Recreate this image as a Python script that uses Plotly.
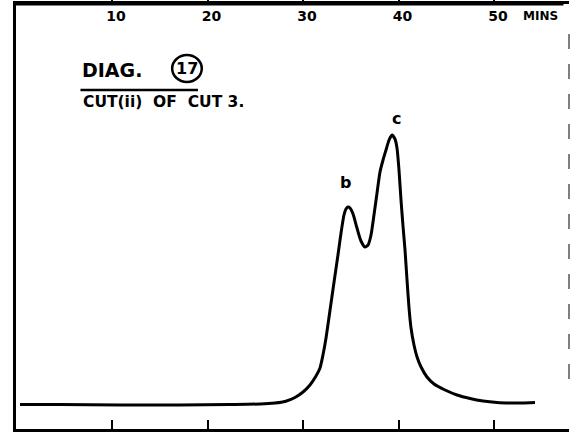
import plotly.graph_objects as go

# Elution time (minutes) and detector response (arbitrary units)
time_min = [0.37, 4.55, 10.84, 17.12, 22.36, 25.50, 27.07, 28.12, 29.16, 30.00,
            30.73, 31.36, 31.78, 32.09, 32.41, 32.83, 33.25, 33.66, 33.98, 34.29,
            34.50, 34.71, 34.92, 35.24, 35.65, 36.07, 36.49, 36.81, 37.12, 37.43,
            37.75, 38.06, 38.38, 38.69, 39.01, 39.32, 39.63, 39.84, 40.05, 40.26,
            40.47, 40.68, 40.89, 41.10, 41.31, 41.62, 41.94, 42.36, 42.98, 43.72,
            44.87, 46.13, 47.49, 48.85, 50.31, 51.68, 52.93, 54.29]
response = [24.5, 24.5, 24, 24, 24.5, 25, 26, 27.5, 31.5, 37,
            44, 53, 61, 74, 91, 119, 147, 174, 196, 214,
            220, 222, 221, 215, 201, 188, 182, 184, 194, 214,
            236, 257, 269, 279, 289, 294, 290, 281, 259, 229,
            203, 179, 149, 121, 101, 84, 72, 62, 52, 45,
            39, 34, 30.5, 28, 26.5, 26, 26, 26.5]

tick_vals = [10, 20, 30, 40, 50]
tick_text = ["10", "20", "30", "40", "50"]

peak_labels = ["b", "c"]
peak_label_x = [34.4, 39.8]
peak_label_y = [247, 311]

title_text = "DIAG."
circled_text = "17"
subtitle_text = "CUT(ii)  OF  CUT 3."
unit_text = "MINS"

FONT = "DejaVu Sans"

fig = go.Figure()
fig.add_trace(go.Scatter(
    x=time_min, y=response, mode="lines",
    line=dict(color="black", width=3, shape="spline", smoothing=0.6),
    hoverinfo="skip", showlegend=False))
# companion trace so the top time axis is drawn
fig.add_trace(go.Scatter(
    x=time_min, y=response, mode="lines", xaxis="x2",
    line=dict(color="rgba(0,0,0,0)", width=0),
    hoverinfo="skip", showlegend=False))

xr = [-0.05, 57.85]
fig.update_layout(
    width=571, height=433,
    margin=dict(l=16, r=2, t=4, b=4),
    paper_bgcolor="white", plot_bgcolor="white",
    xaxis=dict(range=xr, showline=True, linecolor="black", linewidth=2.5,
               ticks="inside", ticklen=9, tickwidth=2, tickcolor="black",
               tickvals=tick_vals, showticklabels=False, automargin=False,
               showgrid=False, zeroline=False),
    xaxis2=dict(range=xr, overlaying="x", side="top", anchor="y",
                showline=True, linecolor="black", linewidth=3,
                ticks="outside", ticklen=4, tickwidth=2, tickcolor="black",
                tickvals=tick_vals, ticktext=tick_text, automargin=False,
                ticklabelposition="inside", ticklabelshift=4, ticklabelstandoff=7,
                tickfont=dict(family=FONT, size=14, color="black", weight="bold"),
                showgrid=False, zeroline=False),
    yaxis=dict(range=[0, 425], showline=True, linecolor="black", linewidth=2.5,
               ticks="", showticklabels=False, showgrid=False, zeroline=False,
               automargin=False),
)

ann_font = dict(family=FONT, color="black", weight="bold")
for lab, lx, ly in zip(peak_labels, peak_label_x, peak_label_y):
    fig.add_annotation(x=lx, y=ly, text=lab, showarrow=False,
                       font=dict(ann_font, size=16))

fig.add_annotation(x=54.9, y=413, text=unit_text, showarrow=False,
                   font=dict(ann_font, size=12))
fig.add_annotation(x=6.7, y=359, text=title_text, showarrow=False, xanchor="left",
                   font=dict(ann_font, size=19))
fig.add_annotation(x=17.9, y=361, text=circled_text, showarrow=False,
                   font=dict(ann_font, size=16))
fig.add_shape(type="circle", x0=16.3, x1=19.4, y0=347, y1=374,
              line=dict(color="black", width=2.5))
fig.add_shape(type="line", x0=6.7, x1=19.0, y0=339, y1=339,
              line=dict(color="black", width=2.5))
fig.add_annotation(x=6.8, y=327, text=subtitle_text, showarrow=False, xanchor="left",
                   font=dict(ann_font, size=15.5))

# top frame line of the chart paper
fig.add_shape(type="line", xref="paper", yref="paper", x0=-0.005, x1=0.99, y0=1, y1=1,
              line=dict(color="black", width=3))
# faint broken right-hand border of the chart paper
fig.add_shape(type="line", xref="paper", x0=1, x1=1, y0=50, y1=410,
              line=dict(color="#555555", width=1.5, dash="longdash"))

fig.write_html("out.html", config={"displayModeBar": False},
               post_script="document.body.style.margin='0';document.body.style.overflow='hidden';")
